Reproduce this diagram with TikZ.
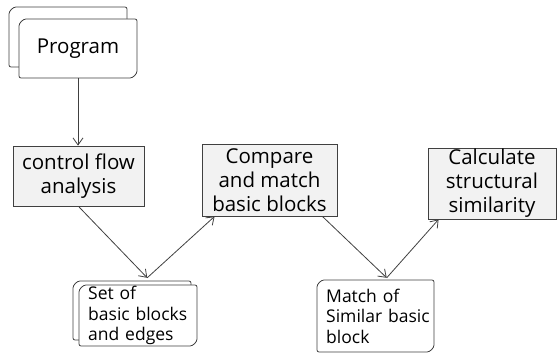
\documentclass[tikz,border=0pt]{standalone}
\usepackage{fontspec}
\setmainfont{Open Sans}
\usetikzlibrary{arrows.meta}
\definecolor{lineclr}{RGB}{64,64,64}
\definecolor{boxfill}{RGB}{242,242,242}
% page shape with two rounded corners (top left, bottom right)
\newcommand\docbox[4]{%
  \draw[docline] (#1,#2) -- (#1,#4-9) arc[start angle=180,end angle=90,radius=9pt]
    -- (#3,#4) -- (#3,#2+9) arc[start angle=0,end angle=-90,radius=9pt] -- cycle;}

\begin{document}
\begin{tikzpicture}[x=1pt,y=1pt,
    stepbox/.style={draw=lineclr, fill=boxfill, line width=0.8pt, align=center,
      inner sep=0pt, font=\fontsize{20.5}{24}\selectfont},
    docline/.style={draw=lineclr, fill=white, line width=0.8pt, rounded corners=2pt},
    doctext/.style={anchor=west, align=left, inner xsep=9pt, inner ysep=0pt,
      text width=106pt, font=\fontsize{17.5}{20.5}\selectfont},
    flow/.style={-{Straight Barb[length=7pt,width=10pt]}, draw=lineclr, line width=0.8pt}]
		\useasboundingbox (0,0) rectangle (557,354);

		\docbox{9}{287}{127}{347}
		\docbox{19}{276}{137}{335}
		\node[font=\fontsize{20.5}{24}\selectfont, minimum width=118pt, minimum height=59pt] at (78,305.5) (prog) {Program};

		\node[stepbox, minimum width=131pt, minimum height=60pt] at (78.5,178) (cfa) {control flow\\analysis};
		\node[stepbox, minimum width=135pt, minimum height=72pt] at (269.5,174) (cmp) {Compare\\and match\\basic blocks};
		\node[stepbox, minimum width=128pt, minimum height=71pt] at (492,170.5) (calc) {Calculate\\structural\\similarity};

		\docbox{73}{14}{191}{73}
		\docbox{79}{8}{197}{69}
		\node[doctext, minimum height=61pt] at (79,38.5) (setof) {Set of\\basic blocks\\and edges};
		\docbox{317}{2}{434}{74}
		\node[doctext, minimum height=72pt] at (317,38) (match) {Match of\\Similar basic\\block};

		\coordinate (meet) at ([xshift=6pt,yshift=7pt]setof.north);
		\coordinate (meet2) at ([xshift=7.5pt,yshift=2pt]match.north);
		\draw[flow] (prog.south) -- (prog.south |- cfa.north);
		\draw[flow] (cfa.south) -- (meet);
		\draw[flow] (meet) -- ([xshift=13pt]cmp.south west);
		\draw[flow] ([xshift=-15pt]cmp.south east) -- (meet2);
		\draw[flow] (meet2) -- ([xshift=11pt]calc.south west);

	\end{tikzpicture}
\end{document}
